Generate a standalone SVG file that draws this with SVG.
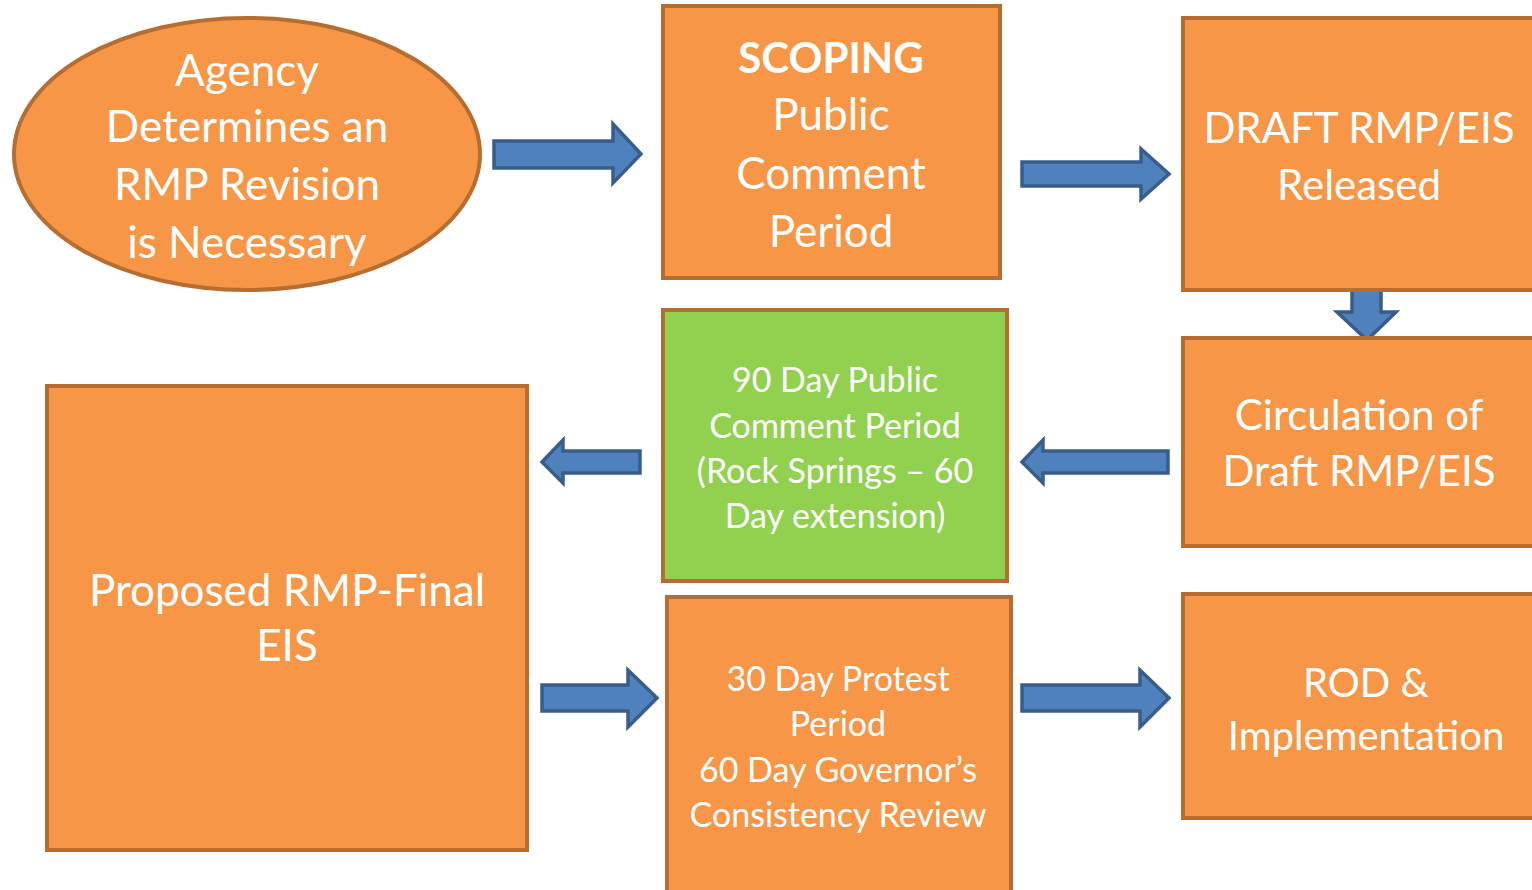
<svg xmlns="http://www.w3.org/2000/svg" width="1532" height="890" viewBox="0 0 1532 890">
<style>
.n{fill:#F79646;stroke:#B66D31;stroke-width:4}
.g{fill:#92D050;stroke:#B66D31;stroke-width:4}
.a{fill:#4F81BD;stroke:#385D8A;stroke-width:3.5;stroke-linejoin:miter}
text{font-family:Lato,"Open Sans",sans-serif;fill:#FFFFFF;text-anchor:middle}
.L{font-size:44px}
.D{font-size:42px}
.M{font-size:40px}
.S{font-size:34px}
.b{font-weight:bold;font-size:42px}
</style>
<rect width="1532" height="890" fill="#FFFFFF"/>
<g id="connectors">
<polygon class="a" points="494,141 613,141 613,124 641,154 613,183 613,168 494,168"/>
<polygon class="a" points="1022,162 1141,162 1141,149 1169,174 1141,199 1141,186 1022,186"/>
<polygon class="a" points="1352,289 1381,289 1381,312 1396,312 1367,340 1337,312 1352,312"/>
<polygon class="a" points="640,451 563,451 563,440 542,462 563,483 563,473 640,473"/>
<polygon class="a" points="1168,451 1043,451 1043,440 1022,462 1043,483 1043,473 1168,473"/>
<polygon class="a" points="542,685 628,685 628,670 657,698 628,727 628,711 542,711"/>
<polygon class="a" points="1022,685 1140,685 1140,670 1169,698 1140,727 1140,711 1022,711"/>
</g>
<g id="agency">
<ellipse class="n" cx="247" cy="154" rx="233" ry="136"/>
<text class="L"><tspan x="247" y="86">Agency</tspan><tspan x="247" y="142">Determines an</tspan><tspan x="247" y="200">RMP Revision</tspan><tspan x="247" y="258">is Necessary</tspan></text>
</g>
<g id="scoping">
<rect class="n" x="663" y="6" width="337" height="272"/>
<text class="L"><tspan x="831" y="73" class="b">SCOPING</tspan><tspan x="831" y="130">Public</tspan><tspan x="831" y="189">Comment</tspan><tspan x="831" y="247">Period</tspan></text>
</g>
<g id="draft">
<rect class="n" x="1183" y="18" width="360" height="272"/>
<text class="D"><tspan x="1359" y="143">DRAFT RMP/EIS</tspan><tspan x="1359" y="200">Released</tspan></text>
</g>
<g id="circulation">
<rect class="n" x="1183" y="338" width="360" height="208"/>
<text class="D"><tspan x="1359" y="430">Circulation of</tspan><tspan x="1359" y="486">Draft RMP/EIS</tspan></text>
</g>
<g id="comment90">
<rect class="g" x="663" y="310" width="344" height="271"/>
<text class="S"><tspan x="835" y="392">90 Day Public</tspan><tspan x="835" y="438">Comment Period</tspan><tspan x="835" y="483">(Rock Springs – 60</tspan><tspan x="835" y="528">Day extension)</tspan></text>
</g>
<g id="proposed">
<rect class="n" x="47" y="386" width="480" height="464"/>
<text class="L"><tspan x="287" y="606">Proposed RMP-Final</tspan><tspan x="287" y="661">EIS</tspan></text>
</g>
<g id="protest">
<rect class="n" x="667" y="597" width="344" height="300"/>
<text class="S"><tspan x="838" y="691">30 Day Protest</tspan><tspan x="838" y="736">Period</tspan><tspan x="838" y="782">60 Day Governor’s</tspan><tspan x="838" y="827">Consistency Review</tspan></text>
</g>
<g id="rod">
<rect class="n" x="1183" y="594" width="360" height="224"/>
<text class="M"><tspan x="1366" y="697">ROD &amp;</tspan><tspan x="1366" y="750">Implementation</tspan></text>
</g>
</svg>
